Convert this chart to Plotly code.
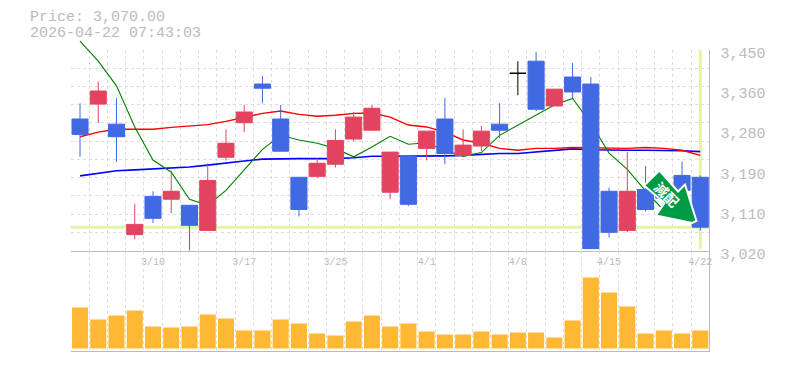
import plotly.graph_objects as go

W, H = 785, 370
dates = ["3/4","3/5","3/6","3/9","3/10","3/11","3/12","3/13","3/16","3/17","3/18","3/19","3/23","3/24","3/25","3/26","3/27","3/30","3/31","4/1","4/2","4/3","4/6","4/7","4/8","4/9","4/10","4/13","4/14","4/15","4/16","4/17","4/20","4/21","4/22"]
opens  = [3302,3334,3291,3054,3136,3130,3117,3063,3220,3294,3377,3302,3177,3179,3205,3259,3278,3145,3222,3239,3302,3224,3244,3291,3400,3426,3330,3392,3377,3147,3063,3151,3162,3181,3177]
highs  = [3336,3382,3347,3120,3147,3192,3117,3207,3280,3332,3394,3332,3177,3218,3280,3317,3332,3231,3222,3276,3347,3280,3287,3336,3426,3446,3366,3422,3392,3155,3231,3201,3170,3211,3181]
lows   = [3221,3294,3210,3044,3079,3100,3020,3063,3213,3274,3336,3233,3093,3175,3198,3254,3278,3130,3115,3213,3205,3220,3233,3261,3353,3319,3330,3347,3024,3048,3059,3104,3128,3145,3063]
closes = [3269,3362,3264,3076,3089,3147,3074,3170,3250,3317,3368,3233,3108,3207,3256,3306,3325,3231,3119,3276,3228,3246,3276,3278,3400,3323,3366,3360,3024,3059,3147,3108,3132,3149,3070]
ma_green = [3469,3426,3373,3285,3214,3188,3130,3117,3149,3192,3237,3267,3257,3250,3239,3221,3242,3265,3248,3251,3235,3222,3230,3267,3289,3310,3332,3346,3293,3229,3194,3148,3106,3100,3093]
ma_red = [3264,3274,3280,3280,3280,3284,3287,3290,3297,3306,3314,3319,3312,3308,3310,3314,3315,3306,3289,3285,3274,3257,3250,3239,3235,3239,3239,3241,3240,3239,3239,3241,3239,3235,3224]
ma_blue = [3180,3186,3191,3193,3195,3197,3199,3203,3208,3212,3216,3217,3217,3217,3217,3219,3222,3222,3222,3222,3223,3224,3226,3228,3228,3231,3234,3238,3236,3235,3235,3235,3235,3234,3232]
volumes = [41,29,33,38,22,21,22,34,30,18,18,29,25,15,13,27,33,22,25,17,14,14,17,14,16,16,11,28,71,56,42,15,18,15,18]
price_ticks = [3450,3364,3278,3192,3106,3020]
price_labels = ["3,450","3,360","3,280","3,190","3,110","3,020"]
date_every = 5
last_price = 3070
title_price = "Price: 3,070.00"
title_time = "2026-04-22 07:43:03"
marker_text = "減配"

n = len(dates)
xs = list(range(n))
y_min, y_max = 3020, 3450
grid_h = [y_min + i * (y_max - y_min) / 11 for i in range(12)]
grid_v = [i - 0.5 for i in range(n + 1)]
x_ticks = xs[4::date_every]
x_labels = [dates[i] for i in x_ticks]

GRID = "#dddddd"; AXIS = "#bbbbbb"; TXT = "#bbbbbb"
RED = "#e2445f"; BLUE = "#4169e1"; BAND = "#e3f4a8"; VOL = "#ffb833"; ARROW = "#009944"
MONO = "Liberation Mono"
PAGE = 8  # body margin of the page
def px(p): return (p - PAGE) / W
def py(p): return 1 - (p - PAGE) / H
dom_x = [px(70.9), px(709.4)]
# taller invisible panel for the moving averages, same scale as the price panel
top_px, price_top_px, price_bot_px = 36, 50, 250.5
scale = (y_max - y_min) / (price_bot_px - price_top_px)
line_top = y_min + (price_bot_px - top_px) * scale

fig = go.Figure()
# invisible anchor trace so the grid / label panel exists first in the stack
fig.add_trace(go.Scatter(x=[n - 1], y=[last_price], mode="markers", marker=dict(opacity=0), xaxis="x", yaxis="y", showlegend=False))
for vals, col, w in [(ma_blue, "#0000ff", 1.6), (ma_red, "#ff0000", 1.4), (ma_green, "#008000", 1.1)]:
    fig.add_trace(go.Scatter(x=xs, y=vals, mode="lines", line=dict(color=col, width=w),
                             xaxis="x2", yaxis="y2", showlegend=False))

normal = [i for i in xs if opens[i] != closes[i]]
doji = [i for i in xs if opens[i] == closes[i]]
def pick(a, idx): return [a[i] for i in idx]
fig.add_trace(go.Candlestick(x=normal, open=pick(opens, normal), high=pick(highs, normal), low=pick(lows, normal), close=pick(closes, normal),
    increasing=dict(line=dict(color=RED, width=1), fillcolor=RED),
    decreasing=dict(line=dict(color=BLUE, width=1), fillcolor=BLUE),
    whiskerwidth=0, xaxis="x3", yaxis="y3", showlegend=False))
fig.add_trace(go.Candlestick(x=doji, open=pick(opens, doji), high=pick(highs, doji), low=pick(lows, doji), close=pick(closes, doji),
    increasing=dict(line=dict(color="#000000", width=1), fillcolor="#000000"),
    decreasing=dict(line=dict(color="#000000", width=1), fillcolor="#000000"),
    whiskerwidth=0, xaxis="x3", yaxis="y3", showlegend=False))
fig.add_trace(go.Bar(x=xs, y=volumes, marker=dict(color=VOL, line=dict(width=0)), xaxis="x4", yaxis="y4", showlegend=False))

minor_x = dict(tickmode="array", tickvals=grid_v, showgrid=True, gridcolor=GRID, griddash="3px,3px", gridwidth=1, ticks="")
rng = [-0.5, n - 0.5]
arrow_pts = [(659.5,170.5),(644,185.5),(664.5,203),(656,215.5),(692,223),(696.5,221),(685,184.5),(678,191.5)]
arrow_path = "M " + " L ".join(f"{px(x):.5f},{py(y):.5f}" for x, y in arrow_pts) + " Z"
dom_price = [py(price_bot_px), py(price_top_px)]

fig.update_layout(
    width=W, height=H, margin=dict(l=0, r=0, t=0, b=0, autoexpand=False), paper_bgcolor="white", plot_bgcolor="rgba(0,0,0,0)",
    showlegend=False, bargap=0.12, boxgap=0.12, boxgroupgap=0, boxmode="overlay",
    font=dict(family=MONO, color=TXT),
    xaxis=dict(domain=dom_x, range=rng, anchor="y", tickmode="array", tickvals=x_ticks, ticktext=x_labels, showgrid=False,
               minor=minor_x, zeroline=False, showline=True, linecolor=AXIS, linewidth=1,
               ticks="outside", ticklen=1, tickcolor="rgba(0,0,0,0)", tickfont=dict(family=MONO, size=10, color=TXT)),
    yaxis=dict(domain=dom_price, range=[y_min, y_max], anchor="x", side="right", tickmode="array",
               tickvals=price_ticks, ticktext=price_labels, showgrid=False,
               minor=dict(tickmode="array", tickvals=grid_h, showgrid=True, gridcolor=GRID, griddash="3px,3px", gridwidth=1, ticks=""),
               zeroline=False, showline=True, linecolor=AXIS, linewidth=1, ticks="outside", ticklen=7, tickcolor="rgba(0,0,0,0)",
               ticklabelshift=3, tickfont=dict(family=MONO, size=15, color=TXT)),
    xaxis2=dict(domain=dom_x, range=rng, anchor="y2", visible=False),
    yaxis2=dict(domain=[py(price_bot_px), py(top_px)], range=[y_min, line_top], anchor="x2", visible=False),
    xaxis3=dict(domain=dom_x, range=rng, anchor="y3", visible=False, rangeslider=dict(visible=False)),
    yaxis3=dict(domain=dom_price, range=[y_min, y_max], anchor="x3", visible=False),
    xaxis4=dict(domain=dom_x, range=rng, anchor="y4", tickmode="array", tickvals=[], showticklabels=False, showgrid=False,
                minor=minor_x, zeroline=False, showline=True, linecolor=AXIS, linewidth=1),
    yaxis4=dict(domain=[py(350.5), py(price_bot_px)], range=[-2, 98], anchor="x4", side="right", showticklabels=False, showgrid=False,
                zeroline=False, showline=True, linecolor=AXIS, linewidth=1),
    shapes=[
        dict(type="line", xref="paper", yref="y", x0=dom_x[0], x1=dom_x[1], y0=last_price, y1=last_price, line=dict(color=BAND, width=3), layer="below"),
        dict(type="line", xref="x", yref="paper", x0=n - 1, x1=n - 1, y0=py(249), y1=py(50), line=dict(color=BAND, width=3), layer="below"),
        dict(type="path", xref="paper", yref="paper", path=arrow_path, fillcolor=ARROW, line=dict(color="white", width=2), layer="above"),
    ],
    annotations=[
        dict(text=title_price, xref="paper", yref="paper", x=px(28), y=py(18), xanchor="left", yanchor="middle", showarrow=False, font=dict(family=MONO, size=15, color=TXT)),
        dict(text=title_time, xref="paper", yref="paper", x=px(28), y=py(33.5), xanchor="left", yanchor="middle", showarrow=False, font=dict(family=MONO, size=15, color=TXT)),
        dict(text=f"<b>{marker_text}</b>", xref="paper", yref="paper", x=px(666.7), y=py(194), xanchor="center", yanchor="middle", showarrow=False, textangle=45,
             font=dict(family="Noto Sans CJK JP", size=14, color="white")),
    ],
)
fig.write_html("out.html")
